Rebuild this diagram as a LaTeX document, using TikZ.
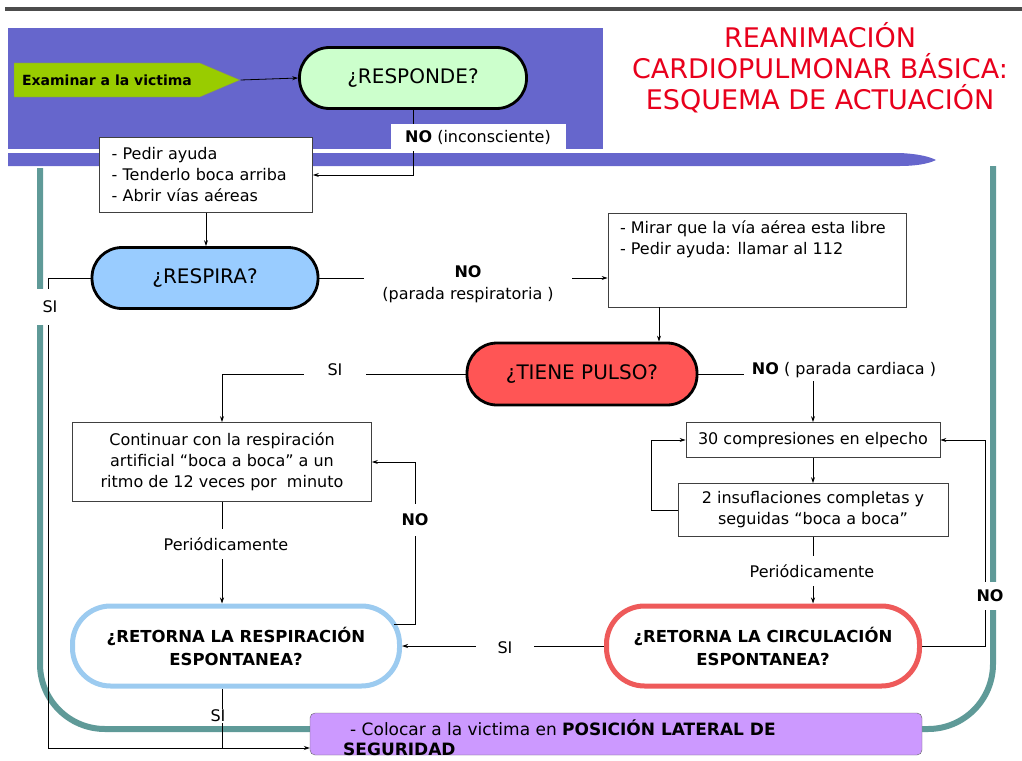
\documentclass[tikz,border=0pt]{standalone}
\usepackage{fontspec}
\setmainfont{DejaVu Sans}
\usetikzlibrary{positioning,shapes.symbols,arrows.meta}
\definecolor{bandazul}{HTML}{6666CC}
\definecolor{verde}{HTML}{99CC00}
\definecolor{verdeclaro}{HTML}{CCFFCC}
\definecolor{azulclaro}{HTML}{99CCFF}
\definecolor{rojo}{HTML}{FF5555}
\definecolor{rojoborde}{HTML}{EE5A5A}
\definecolor{azulborde}{HTML}{9CCBF0}
\definecolor{morado}{HTML}{CC99FF}
\definecolor{verdeazul}{HTML}{5F9A98}
\definecolor{rojotitulo}{HTML}{E8001C}

\begin{document}
\begin{tikzpicture}[x=1pt,y=-1pt]
	\tikzset{
		caja/.style={draw=black!75,fill=white,line width=0.8pt,font=\fontsize{16}{21}\selectfont},
		pregunta/.style={draw,line width=2.8pt,rounded corners=30pt,font=\fontsize{20}{23}\selectfont},
		retorno/.style={fill=white,line width=5pt,rounded corners=38pt,align=center,minimum width=327pt,minimum height=80pt,font=\fontsize{16.5}{23}\selectfont\bfseries},
		flecha/.style={-{Stealth[length=6pt,width=4pt]},line width=0.8pt},
		rotulo/.style={fill=white,inner sep=3pt,font=\fontsize{16}{22}\selectfont}}
	\useasboundingbox (0,0) rectangle (1022,760);
	\fill[black!70] (5,7) rectangle (1022,11);
	\fill[bandazul] (8,28) rectangle (603,149);
	\fill[bandazul] (8,153) -- (900,153) .. controls (920,154) and (930,157) .. (936,160) .. controls (928,164) and (915,166) .. (900,166) -- (8,166) -- cycle;
	\draw[verdeazul,line width=6pt,rounded corners=65pt] (40,168) -- (40,729) -- (993,729) -- (993,166);
	\node[font=\fontsize{27}{31}\selectfont,text=rojotitulo,align=center] (titulo) at (820,68) {REANIMACIÓN\\CARDIOPULMONAR BÁSICA:\\ESQUEMA DE ACTUACIÓN};

	\node[signal,signal to=east,signal pointer angle=46,fill=verde,draw=black!50,minimum width=226pt,minimum height=34pt,inner sep=0pt,font=\fontsize{14}{16}\selectfont\bfseries] (examinar) at (107,80) {Examinar a la victima};
	\node[pregunta,fill=verdeclaro,minimum width=227pt,minimum height=61pt] (responde) at (413,78) {¿RESPONDE?};
	\node[caja,text width=189pt,inner xsep=12pt,minimum height=75pt,align=left] (ayuda) at (206,175) {- Pedir ayuda\\- Tenderlo boca arriba\\- Abrir vías aéreas};
	\node[pregunta,fill=azulclaro,minimum width=226pt,minimum height=61pt] (respira) at (205,278) {¿RESPIRA?};
	\node[caja,inner xsep=12pt,inner ysep=8pt] (aire) at (757,260) {\begin{minipage}[c][78pt][t]{274pt}- Mirar que la vía aérea esta libre\\- Pedir ayuda: llamar al 112\end{minipage}};
	\node[pregunta,fill=rojo,minimum width=230pt,minimum height=62pt] (tiene) at (582,374) {¿TIENE PULSO?};
	\node[caja,minimum width=299pt,minimum height=79pt,align=center] (cont) at (222,462) {Continuar con la respiración\\artificial “boca a boca” a un\\ritmo de 12 veces por\ \ minuto};
	\node[caja,minimum width=254pt,minimum height=35pt] (comp) at (813,440) {30 compresiones en elpecho};
	\node[caja,minimum width=270pt,minimum height=53pt,align=center] (insu) at (813,510) {2 insuflaciones completas y\\seguidas “boca a boca”};
	\node[retorno,draw=azulborde] (retresp) at (236,646) {¿RETORNA LA RESPIRACIÓN\\ESPONTANEA?};
	\node[retorno,draw=rojoborde,minimum width=313pt] (retcirc) at (763,646) {¿RETORNA LA CIRCULACIÓN\\ESPONTANEA?};
	\node[fill=morado,draw=black!60,rounded corners=5pt,minimum width=612pt,minimum height=42pt] (colocar) at (616,734) {};
	\node[anchor=west,align=left,inner sep=0pt,font=\fontsize{17}{20}\selectfont] (textocol) at (343,738) {\hspace*{7pt}- Colocar a la victima en \textbf{POSICIÓN LATERAL DE}\\\textbf{SEGURIDAD}};

	\draw[flecha] (examinar.east) -- (responde.west);
	\draw[flecha] (responde.south) |- (ayuda.east);
	\node[fill=white,minimum width=175pt,minimum height=27pt,inner sep=0pt,font=\fontsize{16}{21}\selectfont] (noinc) at (478,137) {\textbf{NO} (inconsciente)};
	\draw[flecha] (ayuda.south) -- (ayuda.south |- respira.north);
	\draw[flecha] (respira.east) -- (respira.east -| aire.west);
	\node[rotulo,inner xsep=18pt,align=center] (noresp) at (468,284) {\textbf{NO}\\(parada respiratoria )};
	\draw[flecha] ([xshift=-98pt]aire.south) coordinate (bajada) -- (bajada |- tiene.north);
	\draw[flecha] (tiene.west) -| (cont.north);
	\node[rotulo,inner xsep=24pt] (sipulso) at (335,370) {SI};
	\draw[flecha] (tiene.east) -| (comp.north);
	\node[rotulo,inner xsep=8pt] (nopulso) at (844,370) {\textbf{NO} ( parada cardiaca )};
	\draw[flecha] (comp.south) -- (insu.north);
	\draw[flecha] (insu.west) -| ([xshift=-34pt]comp.west) -- (comp.west);
	\draw[flecha] (insu.south) -- (insu.south |- retcirc.north);
	\node[rotulo,inner ysep=8pt] (periodo2) at (812,571) {Periódicamente};
	\draw[flecha] (retcirc.east) -| ([xshift=45pt]comp.east) -- (comp.east);
	\node[rotulo,inner ysep=8pt,font=\fontsize{16}{22}\selectfont\bfseries] (nocirc) at (990,596) {NO};
	\draw[flecha] (retcirc.west) -- (retresp.east);
	\node[rotulo,inner xsep=22pt] (sicirc) at (505,648) {SI};
	\draw[flecha] (cont.south) -- (cont.south |- retresp.north);
	\node[rotulo,inner ysep=8pt] (periodo1) at (226,544) {Periódicamente};
	\draw[flecha] ([shift={(-8pt,22pt)}]retresp.east) -| ([xshift=43pt]cont.east) -- (cont.east);
	\node[rotulo,inner ysep=10pt,font=\fontsize{16}{22}\selectfont\bfseries] (noresp2) at (415,520) {NO};
	\coordinate (esquina) at (48,748);
	\draw[flecha] (respira.west) -| (esquina) -- (esquina -| colocar.west);
	\draw[line width=0.8pt] (cont.south |- retresp.south) -- (cont.south |- esquina);
	\node[rotulo,inner sep=1pt] (sirest) at (218,716) {SI};
	\node[rotulo,minimum width=34pt,minimum height=36pt] (sirespira) at (50,307) {SI};
\end{tikzpicture}
\end{document}
